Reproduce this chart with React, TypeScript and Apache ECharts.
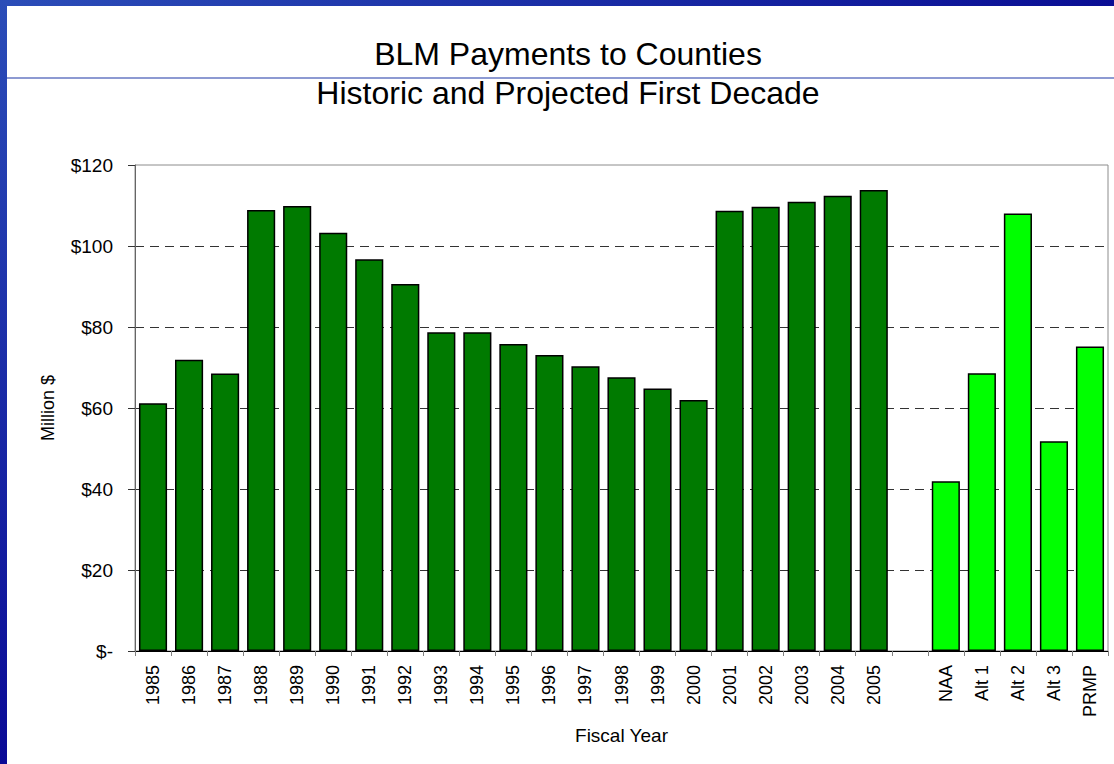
import React, { useEffect, useRef } from "react";
import * as echarts from "echarts";

const categories = [
  "1985", "1986", "1987", "1988", "1989", "1990", "1991", "1992", "1993", "1994",
  "1995", "1996", "1997", "1998", "1999", "2000", "2001", "2002", "2003", "2004",
  "2005", "", "NAA", "Alt 1", "Alt 2", "Alt 3", "PRMP",
];
const historicValues = [
  61.2, 71.9, 68.5, 108.9, 109.9, 103.3, 96.7, 90.6, 78.7, 78.7,
  75.8, 73.1, 70.3, 67.6, 64.8, 62.0, 108.7, 109.7, 110.9, 112.4, 113.8,
];
const projectedValues = [41.9, 68.6, 108.0, 51.8, 75.2];
const yTicks = [0, 20, 40, 60, 80, 100, 120];
const titleLine1 = "BLM Payments to Counties";
const titleLine2 = "Historic and Projected First Decade";

const HIST_COLOR = "#007a00";
const PROJ_COLOR = "#00ff00";
const FONT = "Liberation Sans, Arial, sans-serif";

export default function App() {
  const ref = useRef<HTMLDivElement>(null);
  useEffect(() => {
    if (!ref.current) return;
    const chart = echarts.init(ref.current, null, { renderer: "svg" });
    const data: any[] = [];
    historicValues.forEach((v) => data.push({ value: v, itemStyle: { color: HIST_COLOR } }));
    data.push("-");
    projectedValues.forEach((v) => data.push({ value: v, itemStyle: { color: PROJ_COLOR } }));

    chart.setOption({
      animation: false,
      backgroundColor: "#ffffff",
      textStyle: { fontFamily: FONT },
      graphic: [
        {
          type: "rect",
          shape: { x: 0, y: 0, width: 1114, height: 6 },
          style: {
            fill: new echarts.graphic.LinearGradient(0, 0, 1, 0, [
              { offset: 0, color: "#2b4db8" },
              { offset: 1, color: "#0a0e94" },
            ]),
          },
          silent: true,
        },
        {
          type: "rect",
          shape: { x: 0, y: 0, width: 7, height: 764 },
          style: {
            fill: new echarts.graphic.LinearGradient(0, 0, 0, 1, [
              { offset: 0, color: "#2b4db8" },
              { offset: 1, color: "#0a0a96" },
            ]),
          },
          silent: true,
        },
        {
          type: "line",
          shape: { x1: 7, y1: 78, x2: 1114, y2: 78 },
          style: { stroke: "#1c36a6", lineWidth: 1.2 },
          silent: true,
        },
        {
          type: "text",
          x: 568,
          y: 54,
          style: {
            text: titleLine1,
            fill: "#000",
            font: `32px ${FONT}`,
            textAlign: "center",
            textVerticalAlign: "middle",
          },
        },
        {
          type: "text",
          x: 568,
          y: 93,
          style: {
            text: titleLine2,
            fill: "#000",
            font: `32px ${FONT}`,
            textAlign: "center",
            textVerticalAlign: "middle",
          },
        },
      ],
      grid: {
        left: 135,
        right: 6,
        top: 165,
        bottom: 113,
        show: true,
        borderColor: "#8c8c8c",
        borderWidth: 1,
        backgroundColor: "transparent",
      },
      xAxis: {
        type: "category",
        data: categories,
        name: "Fiscal Year",
        nameLocation: "middle",
        nameGap: 75,
        nameTextStyle: { fontSize: 19, color: "#000", fontFamily: FONT },
        axisLine: { lineStyle: { color: "#000", width: 1 } },
        axisTick: { show: true, interval: 0, alignWithLabel: false, length: 5, lineStyle: { color: "#808080" } },
        axisLabel: { interval: 0, rotate: 90, fontSize: 18, color: "#000", margin: 14, fontFamily: FONT },
        splitLine: { show: false },
      },
      yAxis: {
        type: "value",
        min: yTicks[0],
        max: yTicks[yTicks.length - 1],
        interval: 20,
        name: "Million $",
        nameLocation: "middle",
        nameGap: 78,
        nameTextStyle: { fontSize: 18, color: "#000", fontFamily: FONT },
        axisLine: { show: true, lineStyle: { color: "#666", width: 1 } },
        axisTick: { show: true, length: 7, lineStyle: { color: "#333" } },
        axisLabel: {
          fontSize: 19,
          color: "#000",
          margin: 22,
          fontFamily: FONT,
          formatter: (v: number) => (v === 0 ? "$-" : "$" + v),
        },
        splitLine: {
          show: true,
          showMinLine: false,
          showMaxLine: false,
          lineStyle: { color: "#333", type: [9, 6], width: 1 },
        },
      },
      series: [
        {
          type: "bar",
          data,
          barCategoryGap: "22%",
          itemStyle: { borderColor: "#000", borderWidth: 1.5 },
          z: 3,
        },
      ],
    });
    return () => chart.dispose();
  }, []);
  return (
    <div
      ref={ref}
      style={{ position: "fixed", left: 0, top: 0, width: 1114, height: 764, background: "#fff" }}
    />
  );
}
